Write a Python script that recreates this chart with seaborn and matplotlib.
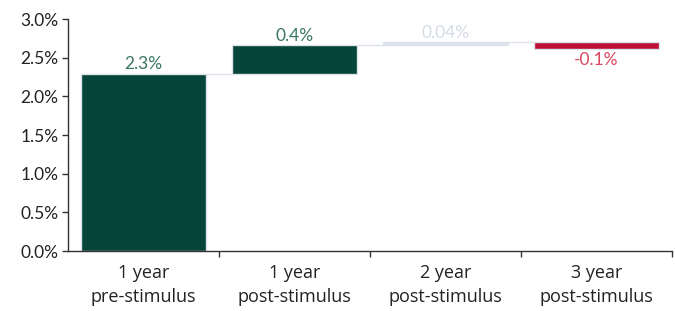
import matplotlib
matplotlib.use("Agg")
import matplotlib.pyplot as plt
import seaborn as sns
import numpy as np
import pandas as pd
from matplotlib.ticker import FuncFormatter

categories = ["1 year\npre-stimulus", "1 year\npost-stimulus", "2 year\npost-stimulus", "3 year\npost-stimulus"]
changes = [2.29, 0.37, 0.04, -0.09]
value_labels = ["2.3%", "0.4%", "0.04%", "-0.1%"]
bar_colors = ["#05453a", "#05453a", "#dde3ea", "#be0f34"]
label_colors = ["#3a7665", "#3a7665", "#d5dce5", "#d8475f"]

sns.set_theme(style="white")
plt.rcParams["font.family"] = ["Open Sans", "DejaVu Sans"]

ends = np.cumsum(changes)
starts = ends - np.array(changes)

df = pd.DataFrame({"cat": categories, "change": changes, "start": starts})

fig = plt.figure(figsize=(6.75, 3.11), dpi=100)
ax = fig.add_axes([68 / 675, 1 - 251 / 311, (672 - 68) / 675, (251 - 19) / 311])

sns.barplot(data=df, x="cat", y="change", bottom=df["start"].values, order=categories,
            color=bar_colors[0], width=0.83, edgecolor="#dde3ea", linewidth=1.0,
            ax=ax, errorbar=None, saturation=1)
for patch, c in zip(ax.patches, bar_colors):
    patch.set_facecolor(c)

# connectors
for i in range(len(categories) - 1):
    ax.plot([i + 0.415, i + 1 - 0.415], [ends[i], ends[i]], color="#dde3ea", lw=1.0, zorder=1)

# value labels
for i, (v, lab, lc) in enumerate(zip(changes, value_labels, label_colors)):
    if v >= 0:
        ax.text(i, ends[i] + 0.02, lab, ha="center", va="bottom", color=lc, fontsize=12.5,
                family=["Lato", "DejaVu Sans"])
    else:
        ax.text(i, ends[i] - 0.04, lab, ha="center", va="top", color=lc, fontsize=12.5,
                family=["Lato", "DejaVu Sans"])

ax.set_xlim(-0.5, 3.5)
ax.set_ylim(0, 3.0)
ax.set_yticks(np.arange(0, 3.01, 0.5))
ax.yaxis.set_major_formatter(FuncFormatter(lambda v, p: f"{v:.1f}%"))
ax.tick_params(axis="y", left=True, length=4, width=1, color="#333333", labelsize=12.5,
               labelcolor="#222222", pad=3)
for t in ax.get_yticklabels():
    t.set_family(["Lato", "DejaVu Sans"])
ax.set_xticks([0.5, 1.5, 2.5, 3.5])
ax.set_xticklabels([])
ax.set_xticks(range(len(categories)), minor=True)
ax.set_xticklabels(categories, minor=True, fontsize=13, color="#222222", linespacing=1.45)
ax.tick_params(axis="x", which="major", bottom=True, length=4, width=1, color="#333333")
ax.tick_params(axis="x", which="minor", bottom=False, length=0, pad=9)
ax.set_xlabel("")
ax.set_ylabel("")
for s in ["top", "right"]:
    ax.spines[s].set_visible(False)
for s in ["left", "bottom"]:
    ax.spines[s].set_color("#333333")
    ax.spines[s].set_linewidth(1)

fig.savefig("out.png", dpi=100)
